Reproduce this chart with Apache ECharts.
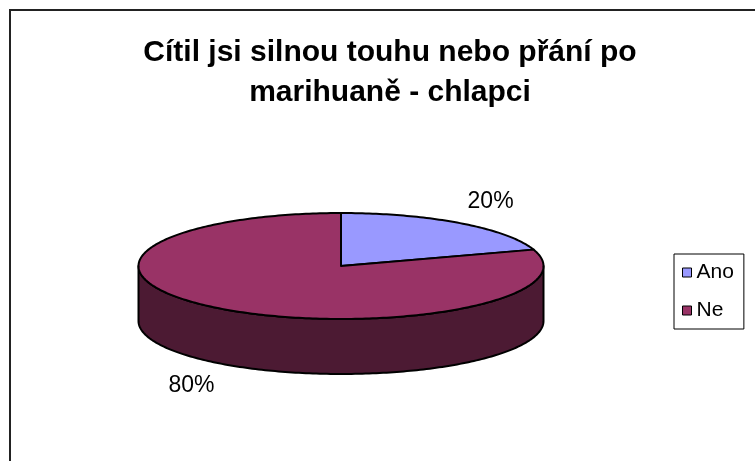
<!DOCTYPE html>
<html>
<head>
<meta charset="utf-8">
<script src="https://cdn.jsdelivr.net/npm/echarts@6/dist/echarts.min.js"></script>
<style>
  html, body { margin: 0; padding: 0; background: #fff; }
  #chart { width: 755px; height: 461px; }
</style>
</head>
<body>
<div id="chart"></div>
<script>
// Chart content
const titleText = 'Cítil jsi silnou touhu nebo přání po\nmarihuaně - chlapci';
const categories = ['Ano', 'Ne'];
const values = [20, 80];
const topColors = ['#9999FF', '#993366'];
const sideColors = ['#4D4D80', '#4C1A33'];

const FONT = '"Liberation Sans", Arial, sans-serif';

// Geometry of the tilted pie (pixels)
const PIE = { cx: 341, cy: 266, rx: 202.5, ry: 53, depth: 55, labelDx: 52, labelDy: 27 };
const total = values.reduce((a, b) => a + b, 0);

function pt(deg, dy) {
  const r = deg * Math.PI / 180;
  return [PIE.cx + PIE.rx * Math.cos(r), PIE.cy - PIE.ry * Math.sin(r) + (dy || 0)];
}
function arc(from, to, dy) {
  const pts = [];
  const n = Math.max(2, Math.ceil(Math.abs(from - to)));
  for (let k = 0; k <= n; k++) pts.push(pt(from + (to - from) * k / n, dy));
  return pts;
}

function makeRenderer(i) {
  return function (params, api) {
    const before = values.slice(0, i).reduce((a, b) => a + b, 0);
    const v = api.value(0);
    // slices start at 12 o'clock and run clockwise
    const a0 = 90 - 360 * before / total;
    const a1 = a0 - 360 * v / total;
    const children = [];
    // outer wall: only the front half (lower half of the ellipse) is visible
    for (let k = -2; k <= 1; k++) {
      const lo = Math.max(a1, -180 + 360 * k);
      const hi = Math.min(a0, 360 * k);
      if (hi > lo) {
        const pts = arc(hi, lo, 0).concat(arc(lo, hi, PIE.depth));
        children.push({
          type: 'polygon', z2: 1,
          shape: { points: pts },
          style: { fill: sideColors[i], stroke: '#000', lineWidth: 2, lineJoin: 'round' }
        });
      }
    }
    // top face
    children.push({
      type: 'polygon', z2: 5,
      shape: { points: [[PIE.cx, PIE.cy]].concat(arc(a0, a1, 0)) },
      style: { fill: topColors[i], stroke: '#000', lineWidth: 2, lineJoin: 'round' }
    });
    // percentage label outside the slice
    const mid = (a0 + a1) / 2 * Math.PI / 180;
    const s = Math.sin(mid);
    const lx = PIE.cx + (PIE.rx + PIE.labelDx) * Math.cos(mid);
    const ly = PIE.cy - (PIE.ry + PIE.labelDy) * s + (s < 0 ? PIE.depth : 0);
    children.push({
      type: 'text', z2: 10,
      x: lx, y: ly,
      style: {
        text: Math.round(v / total * 100) + '%',
        x: 0, y: 0, align: 'center', verticalAlign: 'middle',
        fill: '#000', font: '23px ' + FONT
      }
    });
    return { type: 'group', children: children };
  };
}

const chart = echarts.init(document.getElementById('chart'), null, { renderer: 'canvas' });
chart.setOption({
  backgroundColor: '#fff',
  animation: false,
  title: {
    text: titleText,
    left: 385,
    top: 28,
    textAlign: 'center',
    textStyle: { fontFamily: FONT, fontSize: 30, fontWeight: 'bold', color: '#000', lineHeight: 40 }
  },
  legend: {
    data: categories,
    orient: 'vertical',
    left: 674,
    top: 254,
    padding: [8, 10, 8, 8],
    itemGap: 17,
    itemWidth: 9,
    itemHeight: 9,
    icon: 'rect',
    borderColor: '#000',
    borderWidth: 1,
    selectedMode: false,
    itemStyle: { borderColor: '#000', borderWidth: 1 },
    textStyle: { fontFamily: FONT, fontSize: 21, color: '#000' }
  },
  graphic: [{
    type: 'rect', z: -1,
    shape: { x: 10, y: 10, width: 800, height: 500 },
    style: { fill: 'none', stroke: '#222', lineWidth: 2 }
  }],
  series: categories.map((name, i) => ({
    type: 'custom',
    name: name,
    coordinateSystem: 'none',
    silent: true,
    itemStyle: { color: topColors[i] },
    data: [[values[i]]],
    renderItem: makeRenderer(i)
  }))
});
</script>
</body>
</html>
